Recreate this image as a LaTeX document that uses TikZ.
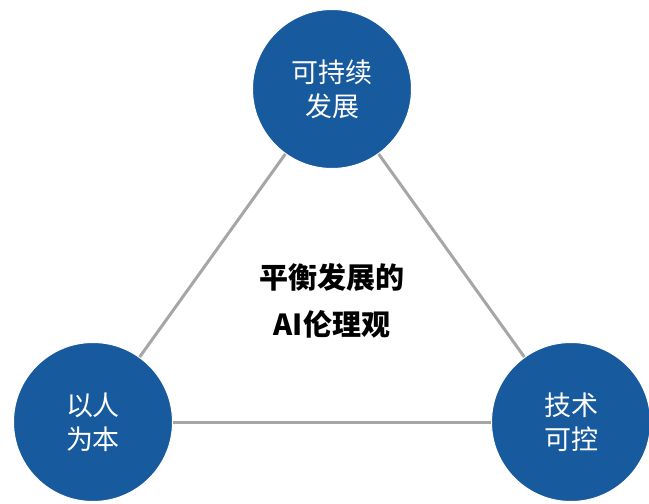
\documentclass[tikz,border=0pt]{standalone}
\usepackage{fontspec}
\newfontfamily\cjk{Noto Sans CJK SC}
\definecolor{circblue}{RGB}{23,90,157}
\definecolor{linegray}{RGB}{166,166,166}
\tikzset{
  pillar/.style={circle, fill=circblue, draw=white, line width=1pt, minimum size=159pt, inner sep=0pt,
    text=white, font=\cjk\fontsize{27}{34}\selectfont, align=center},
  link/.style={draw=linegray, line width=3pt},
  title/.style={font=\cjk\bfseries\fontsize{29}{47}\selectfont, align=center, text=black}
}
\begin{document}
\begin{tikzpicture}[x=1pt,y=-1pt]
\useasboundingbox (0,0) rectangle (649,504);
\node[pillar] (top) at (332,89) {可持续\\发展};
\node[pillar] (left) at (93,422) {以人\\为本};
\node[pillar] (right) at (571,422) {技术\\可控};
\draw[link] (top) -- (left);
\draw[link] (left) -- (right);
\draw[link] (right) -- (top);
\node[title] (center) at (332,301) {平衡发展的\\AI伦理观};
\end{tikzpicture}
\end{document}
